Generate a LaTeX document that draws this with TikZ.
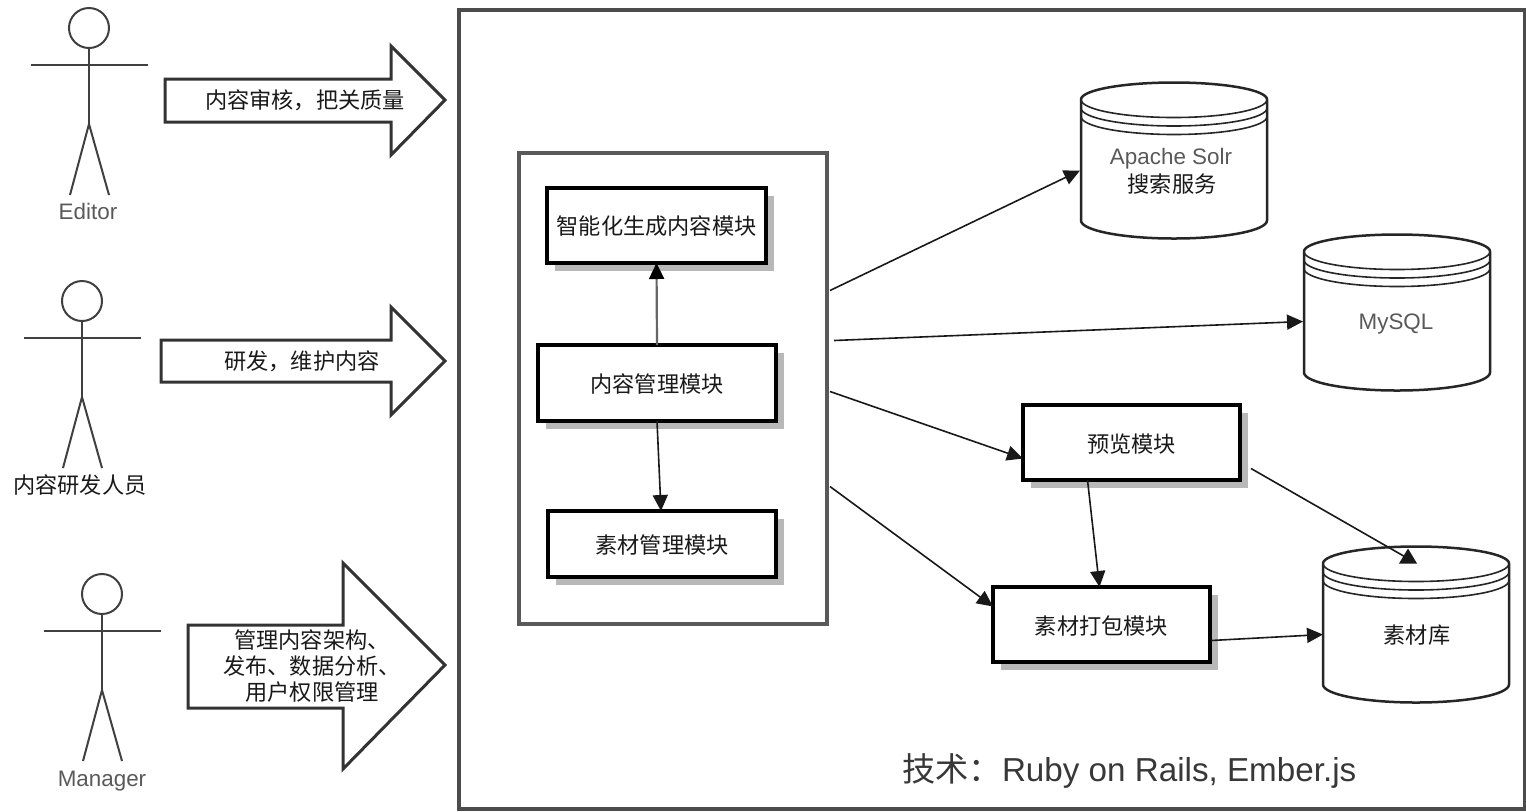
\documentclass[tikz,border=0pt]{standalone}
\usepackage{fontspec}
\setmainfont{Noto Sans CJK SC}
\newfontfamily\latfont{Liberation Sans}
\usetikzlibrary{arrows.meta,shadows}
\tikzset{
  modbox/.style={draw=black,line width=1.65pt,fill=white,inner sep=0pt,outer sep=0pt,text height=10.7pt,
    drop shadow={shadow xshift=4pt,shadow yshift=-4pt,fill=black!28,opacity=1}},
  corebox/.style={draw=black!65,line width=1.6pt,fill=white,inner sep=0pt,outer sep=0pt},
  dbbox/.style={inner sep=0pt,outer sep=0pt,minimum width=93pt,minimum height=78pt},
  dbline/.style={draw=black!85,line width=1.25pt,fill=white},
  bigarrow/.style={draw=black!80,line width=1.5pt,fill=white,line join=miter},
  stick/.style={draw=black!75,line width=1pt},
  headnode/.style={circle,draw=black!75,line width=1pt,minimum size=20pt,inner sep=0pt,outer sep=0pt},
  link/.style={draw=black!90,line width=.8pt,->,>={Triangle[length=8pt,width=7.5pt]}},
  cjk/.style={font=\fontsize{11.1}{13}\selectfont,text=black!90,align=center,inner sep=0pt},
  lat/.style={font=\latfont\fontsize{11.2}{13}\selectfont,text=black!65,inner sep=0pt}
}
\begin{document}
\begin{tikzpicture}[x=0.5pt,y=-0.5pt]
    \useasboundingbox (0,0) rectangle (1526,811);
    \draw[corebox,draw=black!70] (459,10) rectangle (1525,809);
    % actors
    \foreach \n/\x/\y in {editor/89/28,dev/82/301,manager/102/594}
    {
      \node[headnode] (\n) at (\x,\y) {};
      \draw[stick] (\n.south) -- (\x,\y+96) coordinate (\n hip);
      \draw[stick] (\x-58,\y+37) -- (\x+59,\y+37);
      \draw[stick] (\x-19,\y+167) -- (\n hip) -- (\x+20,\y+167);
    }
    \node[lat] (editorlabel) at (88,211) {Editor};
    \node[cjk] (devlabel) at (80,485) {内容研发人员};
    \node[lat] (managerlabel) at (102,781) {Manager};
    % block arrows
    \draw[bigarrow] (165,79)--(391,79)--(391,46)--(445,100)--(391,155)--(391,122)--(165,122)--cycle;
    \draw[bigarrow] (161,340)--(391,340)--(391,307)--(445,361)--(391,415)--(391,382)--(161,382)--cycle;
    \draw[bigarrow] (188,625)--(343,625)--(343,563)--(445,665)--(343,769)--(343,708)--(188,708)--cycle;
    \node[cjk] (reviewlabel) at (305,100) {内容审核，把关质量};
    \node[cjk] (buildlabel) at (302,361) {研发，维护内容};
    \node[cjk] (adminlabel) at (312,666) {管理内容架构、\\发布、数据分析、\\用户权限管理};
    % modules
    \node[corebox,minimum width=154pt,minimum height=235.5pt] (core) at (673,388.5) {};
    \node[modbox,cjk,text height=9.7pt,minimum width=109.5pt,minimum height=37.5pt] (smart) at (656.5,225.5) {智能化生成内容模块};
    \node[modbox,cjk,minimum width=119pt,minimum height=38pt] (manage) at (657,383) {内容管理模块};
    \node[modbox,cjk,minimum width=114pt,minimum height=33pt] (material) at (662,544) {素材管理模块};
    \node[modbox,cjk,minimum width=108.5pt,minimum height=37.5pt] (preview) at (1131.5,442.5) {预览模块};
    \node[modbox,cjk,minimum width=108.5pt,minimum height=37.5pt] (pack) at (1101.5,624.5) {素材打包模块};
    % stores
    \foreach \n/\x/\y in {solr/1174/160.5,mysql/1397/312.5,library/1416/624.5}
    {
      \node[dbbox] (\n) at (\x,\y) {};
      \draw[dbline] (\x-93,\y-61) arc [start angle=180,end angle=0,x radius=46.5pt,y radius=8.5pt]
        -- (\x+93,\y+60) arc [start angle=0,end angle=-180,x radius=46.5pt,y radius=9pt] -- cycle;
      \foreach \d in {0,8.5,17}
      \draw[dbline,fill=none,line width=.8pt] (\x-93,\y-61+\d) arc [start angle=180,end angle=360,x radius=46.5pt,y radius=9pt];
    }
    \node[lat] (solrname) at (1171,159) {Apache Solr};
    \node[cjk] (solrlabel) at (1172,184) {搜索服务};
    \node[lat] (mysqlname) at (1396,324) {MySQL};
    \node[cjk] (librarylabel) at (1417,635) {素材库};
    % connectors
    \draw[link,draw=black!60,line width=1.1pt,-{Triangle[length=8pt,width=7.5pt,black]}] (manage.north) -- (smart.south);
    \draw[link] (manage.south) -- ([xshift=-.5pt]material.north);
    \draw[link] ([shift={(3,-98)}]core.east) -- ([shift={(-1,10)}]solr.west);
    \draw[link] ([shift={(7,-48)}]core.east) -- ([shift={(-1,9)}]mysql.west);
    \draw[link] ([shift={(3,3)}]core.east) -- ([shift={(0,16)}]preview.west);
    \draw[link] ([shift={(3,98)}]core.east) -- ([shift={(0,-18)}]pack.west);
    \draw[link] ([xshift=-22pt]preview.south) -- ([xshift=-1pt]pack.north);
    \draw[link] ([shift={(1,16)}]pack.east) -- ([shift={(0,10)}]library.west);
    \draw[link,-] ([shift={(11,26)}]preview.east) -- ([shift={(-1,-62)}]library.center);
    \fill[black!90] ([shift={(-8,-76)}]library.center) -- ([shift={(1,-61)}]library.center) -- ([shift={(-17,-61)}]library.center) -- cycle;
    \node[font=\fontsize{16.6}{20}\selectfont,text=black!78,anchor=west,inner sep=0pt] (techlabel) at (902,771) {技术：{\latfont Ruby on Rails, Ember.js}};
\end{tikzpicture}
\end{document}
